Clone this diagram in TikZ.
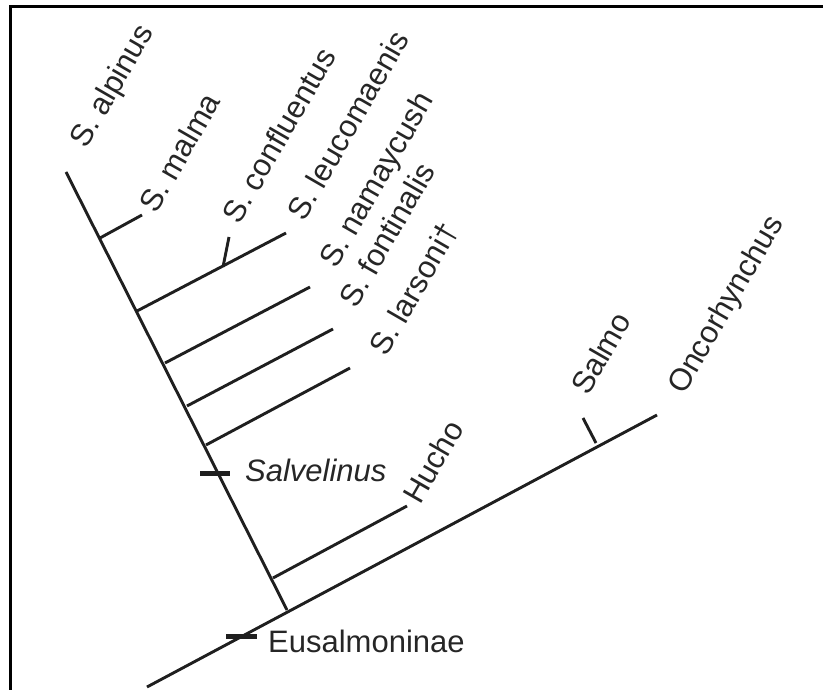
\documentclass[tikz,border=0pt]{standalone}
\usepackage{fontspec}
\setmainfont{Liberation Sans}
\begin{document}
\begin{tikzpicture}[x=1pt,y=-1pt,
  branch/.style={line width=2.9pt, draw=black!88},
  bar/.style={line width=5pt, draw=black!88},
  frame/.style={line width=3pt, draw=black},
  taxon/.style={anchor=base west, inner sep=0pt, rotate=60, font=\fontsize{31}{36}\selectfont, text=black!85},
  group/.style={anchor=base west, inner sep=0pt, font=\fontsize{31}{36}\selectfont, text=black!85}]
\useasboundingbox (0,0) rectangle (823,690);
% frame
\coordinate (fbl) at (10,690);
\coordinate (ftl) at (10,7);
\coordinate (ftr) at (823,7);
\draw[frame] (fbl) -- (ftl) -- (ftr);
% main line
\coordinate (root) at (147,687);
\coordinate (onc) at (657,415);
\draw[branch] (root) -- (onc);
% stem
\coordinate (alp) at (66,172);
\coordinate (stemb) at (287,610);
\draw[branch] (alp) -- (stemb);
% branches
\coordinate (malS) at (100,238);   \coordinate (malE) at (142,215);
\coordinate (leuS) at (137,311);   \coordinate (leuE) at (286,233);
\coordinate (conS) at (223,267);   \coordinate (conE) at (229,237);
\coordinate (namS) at (165,363);   \coordinate (namE) at (310,287);
\coordinate (fonS) at (187,406);   \coordinate (fonE) at (333,329);
\coordinate (larS) at (206,445);   \coordinate (larE) at (350,368);
\coordinate (hucS) at (273,578);   \coordinate (hucE) at (407,506);
\coordinate (salS) at (596,443);   \coordinate (salE) at (583,418);
\draw[branch] (malS) -- (malE);
\draw[branch] (leuS) -- (leuE);
\draw[branch] (conS) -- (conE);
\draw[branch] (namS) -- (namE);
\draw[branch] (fonS) -- (fonE);
\draw[branch] (larS) -- (larE);
\draw[branch] (hucS) -- (hucE);
\draw[branch] (salS) -- (salE);
% bars
\coordinate (svA) at (200,473); \coordinate (svB) at (230,473);
\coordinate (euA) at (226,636); \coordinate (euB) at (257,636);
\draw[bar] (svA) -- (svB);
\draw[bar] (euA) -- (euB);
% labels
\node[taxon] (lalp) at (86,150) {S. alpinus};
\node[taxon] (lmal) at (156,215) {S. malma};
\node[taxon] (lcon) at (239,226) {S. confluentus};
\node[taxon] (lleu) at (304,223) {S. leucomaenis};
\node[taxon] (lnam) at (336,270) {S. namaycush};
\node[taxon] (lfon) at (356,310) {S. fontinalis};
\node[taxon] (llar) at (386,358) {S. larsoni†};
\node[taxon] (lhuc) at (420,506) {Hucho};
\node[taxon] (lsal) at (588,397) {Salmo};
\node[taxon] (lonc) at (684,396) {Oncorhynchus};
\node[group] (lsv) at (245,481) {\itshape Salvelinus};
\node[group] (leu) at (268,652) {Eusalmoninae};
\end{tikzpicture}
\end{document}
